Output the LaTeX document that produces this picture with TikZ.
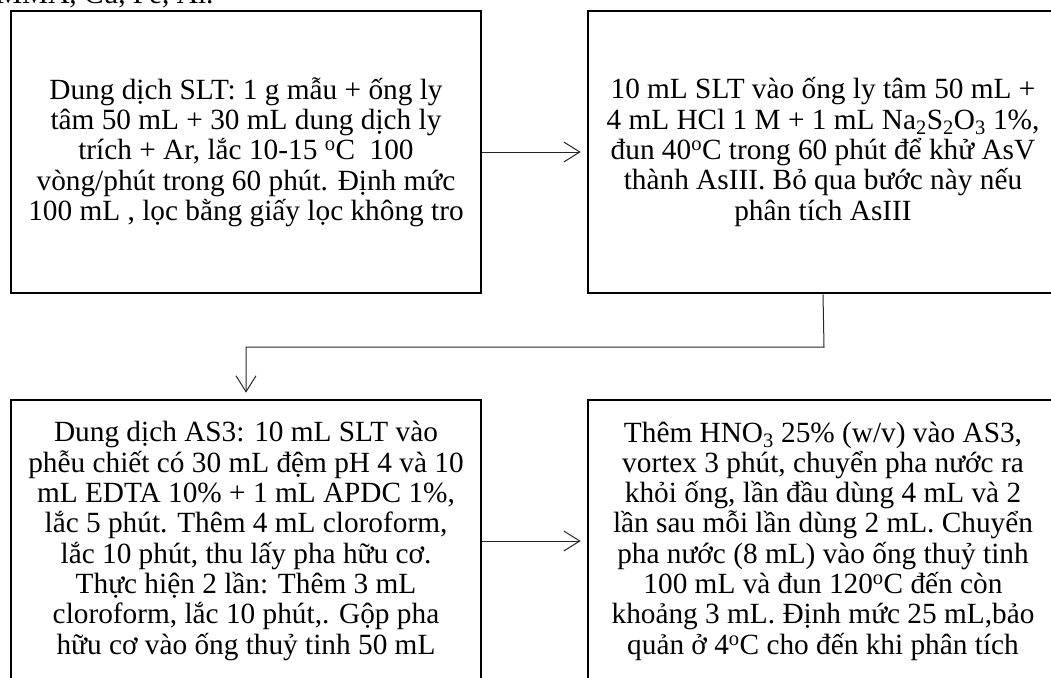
\documentclass[tikz,border=0pt]{standalone}
\usepackage{fontspec}
\setmainfont{Liberation Serif}
\usetikzlibrary{arrows.meta}
\tikzset{
  stepbox/.style={draw=black, line width=2.6pt, minimum width=470pt, minimum height=282pt,
    inner sep=0pt, align=center, font=\fontsize{29.3}{30.3}\selectfont},
  conn/.style={draw=black!85, line width=1pt},
  connarrow/.style={conn, -{Straight Barb[length=16pt,width=20pt,line width=1pt]}, shorten >=6pt}
}
\begin{document}
\begin{tikzpicture}[x=1pt,y=1pt]
\useasboundingbox (0,0) rectangle (1051,-677);
\clip (0,0) rectangle (1051,-677);
\node[anchor=base west, inner sep=0pt, font=\fontsize{29.3}{30.3}\selectfont] (top) at (-4,-4) {MMA, Cu, Fe, Al.};
\node[stepbox] (b1) at (246,-152) {Dung dịch SLT: 1 g mẫu + ống ly\\ tâm 50 mL + 30 mL dung dịch ly\\ trích + Ar, lắc 10-15 \textsuperscript{o}C \ 100\\ vòng/phút trong 60 phút. Định mức\\ 100 mL , lọc bằng giấy lọc không tro};
\node[stepbox] (b2) at (823,-152) {10 mL SLT vào ống ly tâm 50 mL +\\ 4 mL HCl 1 M + 1 mL Na\textsubscript{2}S\textsubscript{2}O\textsubscript{3} 1\%,\\ đun 40\textsuperscript{o}C trong 60 phút để khử AsV\\ thành AsIII. Bỏ qua bước này nếu\\ phân tích AsIII};
\node[stepbox] (b3) at (246,-541) {Dung dịch AS3: 10 mL SLT vào\\ phễu chiết có 30 mL đệm pH 4 và 10\\ mL EDTA 10\% + 1 mL APDC 1\%,\\ lắc 5 phút. Thêm 4 mL cloroform,\\ lắc 10 phút, thu lấy pha hữu cơ.\\ Thực hiện 2 lần: Thêm 3 mL\\ cloroform, lắc 10 phút,. Gộp pha\\ hữu cơ vào ống thuỷ tinh 50 mL};
\node[stepbox] (b4) at (823,-541) {Thêm HNO\textsubscript{3} 25\% (w/v) vào AS3,\\ vortex 3 phút, chuyển pha nước ra\\ khỏi ống, lần đầu dùng 4 mL và 2\\ lần sau mỗi lần dùng 2 mL. Chuyển\\ pha nước (8 mL) vào ống thuỷ tinh\\ 100 mL và đun 120\textsuperscript{o}C đến còn\\ khoảng 3 mL. Định mức 25 mL,bảo\\ quản ở 4\textsuperscript{o}C cho đến khi phân tích};
\coordinate (turn) at (824,-347);
\draw[connarrow] (b1.east) -- (b2.west);
\draw[connarrow] (b2.south) -- (turn) -| (b3.north);
\draw[connarrow] (b3.east) -- (b4.west);
\end{tikzpicture}
\end{document}
